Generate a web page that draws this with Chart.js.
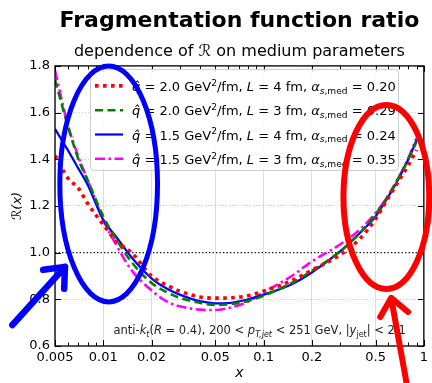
<!DOCTYPE html>
<html>
<head>
<meta charset="utf-8">
<script src="https://cdn.jsdelivr.net/npm/chart.js@4.4.0/dist/chart.umd.min.js"></script>
<style>
  html, body { margin: 0; padding: 0; background: #fff; }
  #wrap { width: 432px; height: 383px; }
</style>
</head>
<body>
<div id="wrap"><canvas id="chart" width="432" height="383"></canvas></div>
<script>
// -------------------------
// Datos
// -------------------------
const xGrid = [0.005, 0.006, 0.007, 0.008, 0.01, 0.012, 0.015, 0.02, 0.025, 0.03, 0.04, 0.05,
               0.06, 0.08, 0.1, 0.15, 0.2, 0.3, 0.4, 0.5, 0.6, 0.7, 0.8, 0.9];

const rQ20L4 = [1.415, 1.32, 1.275, 1.21, 1.12, 1.05, 1.0, 0.90, 0.86, 0.835, 0.81, 0.805,
                0.806, 0.815, 0.835, 0.88, 0.925, 0.99, 1.06, 1.145, 1.235, 1.31, 1.375, 1.44];
const rQ20L3 = [1.74, 1.545, 1.40, 1.31, 1.155, 1.06, 0.96, 0.87, 0.83, 0.806, 0.785, 0.776,
                0.778, 0.793, 0.815, 0.87, 0.922, 1.005, 1.085, 1.165, 1.245, 1.325, 1.40, 1.475];
const rQ15L4 = [1.53, 1.44, 1.36, 1.29, 1.14, 1.07, 0.98, 0.89, 0.845, 0.82, 0.792, 0.783,
                0.784, 0.80, 0.82, 0.865, 0.915, 1.005, 1.085, 1.155, 1.24, 1.32, 1.40, 1.483];
const rQ15L3 = [1.78, 1.55, 1.41, 1.31, 1.14, 1.035, 0.925, 0.838, 0.79, 0.77, 0.756, 0.754,
                0.762, 0.79, 0.83, 0.90, 0.962, 1.035, 1.10, 1.17, 1.245, 1.325, 1.405, 1.49];

// parámetros de cada curva (para la leyenda)
const qhatVals  = [2.0, 2.0, 1.5, 1.5];
const lenVals   = [4, 3, 4, 3];
const alphaVals = [0.20, 0.29, 0.24, 0.35];

// ticks
const xMajor = [0.005, 0.01, 0.02, 0.05, 0.1, 0.2, 0.5, 1];
const xMinor = [0.006, 0.007, 0.008, 0.009, 0.03, 0.04, 0.06, 0.07, 0.08, 0.09,
                0.3, 0.4, 0.6, 0.7, 0.8, 0.9];
const xLabels = ["0.005", "0.01", "0.02", "0.05", "0.1", "0.2", "0.5", "1"];
const yTicks = [0.6, 0.8, 1.0, 1.2, 1.4, 1.6, 1.8];

// cortes del jet
const jetR = 0.4, ptMin = 200, ptMax = 251, yMax = 2.1;

const FONT = '"DejaVu Sans", sans-serif';

function pts(vals){ return xGrid.map((x, i) => ({ x: x, y: vals[i] })); }

// -------------------------
// Texto con sub/superíndices
// -------------------------
function segFont(s, size){
  const sz = s.pos ? size * 0.7 : size;
  return (s.it ? "italic " : "") + sz + "px " + FONT;
}
function richWidth(ctx, segs, size){
  let w = 0;
  segs.forEach(s => { ctx.font = segFont(s, size); w += ctx.measureText(s.t).width; });
  return w;
}
function drawRich(ctx, segs, x, y, size){
  ctx.textBaseline = "alphabetic";
  ctx.textAlign = "left";
  segs.forEach(s => {
    ctx.font = segFont(s, size);
    let dy = 0;
    if (s.pos === "sup") dy = -size * 0.4;
    if (s.pos === "sub") dy = size * 0.22;
    ctx.fillText(s.t, x, y + dy);
    x += ctx.measureText(s.t).width;
  });
  return x;
}
function legendSegs(i){
  return [
    { t: "q\u0302", it: true },
    { t: " = " + qhatVals[i].toFixed(1) + " GeV" },
    { t: "2", pos: "sup" },
    { t: "/fm, " },
    { t: "L", it: true },
    { t: " = " + lenVals[i] + " fm, " },
    { t: "\u03b1", it: true },
    { t: "s", it: true, pos: "sub" },
    { t: ",med", pos: "sub" },
    { t: " = " + alphaVals[i].toFixed(2) }
  ];
}
const cutSegs = [
  { t: "anti-" }, { t: "k", it: true }, { t: "t", it: true, pos: "sub" },
  { t: "(" }, { t: "R", it: true }, { t: " = " + jetR + "), " + ptMin + " < " },
  { t: "p", it: true }, { t: "T,jet", it: true, pos: "sub" },
  { t: " < " + ptMax + " GeV, |" }, { t: "y", it: true }, { t: "jet", pos: "sub" },
  { t: "| < " + yMax.toFixed(1) }
];

// -------------------------
// Plugin: línea 1.0, marco, ticks internos, leyenda, texto
// -------------------------
const framePlugin = {
  id: "frame",
  beforeDatasetsDraw(chart){
    const { ctx, chartArea: a, scales: { y } } = chart;
    const py = y.getPixelForValue(1.0);
    ctx.save();
    ctx.strokeStyle = "#222";
    ctx.lineWidth = 1.2;
    ctx.setLineDash([1.5, 2]);
    ctx.beginPath(); ctx.moveTo(a.left, py); ctx.lineTo(a.right, py); ctx.stroke();
    ctx.restore();
  },
  afterDatasetsDraw(chart){
    const { ctx, chartArea: a, scales: { x, y } } = chart;
    ctx.save();
    // ticks hacia dentro
    ctx.strokeStyle = "#000";
    ctx.lineWidth = 1;
    ctx.beginPath();
    xMajor.concat(xMinor).forEach(v => {
      const px = Math.round(x.getPixelForValue(v)) + 0.5;
      const len = xMajor.includes(v) ? 6 : 3.5;
      ctx.moveTo(px, a.bottom); ctx.lineTo(px, a.bottom - len);
      ctx.moveTo(px, a.top); ctx.lineTo(px, a.top + len);
    });
    yTicks.forEach(v => {
      const py = Math.round(y.getPixelForValue(v)) + 0.5;
      ctx.moveTo(a.left, py); ctx.lineTo(a.left + 6, py);
      ctx.moveTo(a.right, py); ctx.lineTo(a.right - 6, py);
    });
    ctx.stroke();
    // marco
    ctx.lineWidth = 1.3;
    ctx.strokeRect(a.left, a.top, a.right - a.left, a.bottom - a.top);

    // leyenda
    const lx = a.left + 35, ly = a.top + 3, lw = 308, lh = 101;
    ctx.fillStyle = "rgba(255,255,255,0.85)";
    ctx.strokeStyle = "#cccccc";
    ctx.lineWidth = 1;
    ctx.beginPath();
    ctx.roundRect(lx + 0.5, ly + 0.5, lw, lh, 3);
    ctx.fill(); ctx.stroke();
    chart.data.datasets.forEach((ds, i) => {
      const ry = ly + 17 + i * 24.3;
      ctx.save();
      ctx.strokeStyle = ds.borderColor;
      ctx.lineWidth = ds.borderWidth;
      ctx.setLineDash(ds.borderDash || []);
      ctx.lineCap = "butt";
      ctx.beginPath(); ctx.moveTo(lx + 5, ry); ctx.lineTo(lx + 33, ry); ctx.stroke();
      ctx.restore();
      ctx.fillStyle = "#000";
      drawRich(ctx, legendSegs(i), lx + 42, ry + 5, 13);
    });

    // texto de cortes
    const cw = richWidth(ctx, cutSegs, 11.5);
    ctx.fillStyle = "#222";
    drawRich(ctx, cutSegs, a.right - 18 - cw, a.bottom - 12, 11.5);
    ctx.restore();
  }
};

// -------------------------
// Plugin: elipses y flechas añadidas a mano sobre la figura
// -------------------------
const marks = [
  { kind: "ellipse", color: "#0000ff", width: 5, x0: 0.00536, x1: 0.0218, y0: 0.789, y1: 1.80 },
  { kind: "ellipse", color: "#ff0000", width: 6, x0: 0.315, x1: 1.08, y0: 0.844, y1: 1.633 },
  { kind: "arrow", color: "#0000ff", width: 6.5, fx: 0.00271, fy: 0.69, tx: 0.00577, ty: 0.939 },
  { kind: "arrow", color: "#ff0000", width: 6, fx: 0.80, fy: 0.40, tx: 0.625, ty: 0.806 }
];
const overlayPlugin = {
  id: "overlay",
  afterDraw(chart){
    const { ctx, scales: { x, y } } = chart;
    ctx.save();
    ctx.lineCap = "round";
    ctx.lineJoin = "round";
    marks.forEach(m => {
      ctx.strokeStyle = m.color;
      ctx.lineWidth = m.width;
      ctx.beginPath();
      if (m.kind === "ellipse"){
        const l = x.getPixelForValue(m.x0), r = x.getPixelForValue(m.x1);
        const t = y.getPixelForValue(m.y1), b = y.getPixelForValue(m.y0);
        ctx.ellipse((l + r) / 2, (t + b) / 2, (r - l) / 2, (b - t) / 2, 0, 0, Math.PI * 2);
      } else {
        const fx = x.getPixelForValue(m.fx), fy = y.getPixelForValue(m.fy);
        const tx = x.getPixelForValue(m.tx), ty = y.getPixelForValue(m.ty);
        const ang = Math.atan2(fy - ty, fx - tx);
        ctx.moveTo(fx, fy); ctx.lineTo(tx, ty);
        [0.7, -0.7].forEach(d => {
          ctx.moveTo(tx, ty);
          ctx.lineTo(tx + 22 * Math.cos(ang + d), ty + 22 * Math.sin(ang + d));
        });
      }
      ctx.stroke();
    });
    ctx.restore();
  }
};

// -------------------------
// Chart
// -------------------------
const ctx = document.getElementById("chart").getContext("2d");
const chart = new Chart(ctx, {
  type: "line",
  data: {
    datasets: [
      { label: "q=2.0 L=4", data: pts(rQ20L4), borderColor: "#ff0000", borderWidth: 3.6, borderDash: [3.6, 4.4] },
      { label: "q=2.0 L=3", data: pts(rQ20L3), borderColor: "#008000", borderWidth: 2.6, borderDash: [8, 4.5] },
      { label: "q=1.5 L=4", data: pts(rQ15L4), borderColor: "#0000ff", borderWidth: 2.2 },
      { label: "q=1.5 L=3", data: pts(rQ15L3), borderColor: "#ff00ff", borderWidth: 2.6, borderDash: [10, 3.5, 2.5, 3.5] }
    ].map(d => Object.assign(d, { pointRadius: 0, fill: false, cubicInterpolationMode: "monotone", borderCapStyle: "butt" }))
  },
  options: {
    responsive: false,
    animation: false,
    devicePixelRatio: 1,
    layout: { padding: { left: 0, right: 6, top: 0, bottom: 0 } },
    plugins: {
      legend: { display: false },
      tooltip: { enabled: false },
      title: {
        display: true,
        fullSize: false,
        text: "Fragmentation function ratio",
        color: "#000",
        font: { family: FONT, size: 22, weight: "bold" },
        padding: { top: 8, bottom: 2 }
      },
      subtitle: {
        display: true,
        fullSize: false,
        text: "dependence of \u211b on medium parameters",
        color: "#000",
        font: { family: FONT, size: 16 },
        padding: { top: 6, bottom: 4.3 }
      }
    },
    scales: {
      x: {
        type: "logarithmic",
        min: 0.005,
        max: 1,
        afterBuildTicks(scale){
          scale.ticks = xMajor.concat(xMinor).sort((a, b) => a - b).map(v => ({ value: v, major: xMajor.includes(v) }));
        },
        afterFit(scale){ scale.height = 37; },
        ticks: {
          autoSkip: false,
          maxRotation: 0,
          padding: 4,
          color: "#000",
          font: { family: FONT, size: 13 },
          callback(v){ const i = xMajor.indexOf(v); return i >= 0 ? xLabels[i] : ""; }
        },
        grid: {
          drawTicks: false,
          color: c => (c.tick && xMajor.includes(c.tick.value) ? "#dddddd" : "rgba(0,0,0,0)"),
          lineWidth: 1
        },
        border: { display: false },
        title: {
          display: true,
          text: "x",
          color: "#000",
          font: { family: FONT, size: 14, style: "italic" },
          padding: { top: 0, bottom: 1 }
        }
      },
      y: {
        min: 0.6,
        max: 1.8,
        afterBuildTicks(scale){ scale.ticks = yTicks.map(v => ({ value: v })); },
        afterFit(scale){ scale.width = 55; },
        ticks: {
          padding: 5,
          color: "#000",
          font: { family: FONT, size: 13 },
          callback: v => v.toFixed(1)
        },
        grid: {
          drawTicks: false,
          color: c => (c.tick && Math.abs(c.tick.value - 1.0) < 1e-6 ? "rgba(0,0,0,0)" : "#cccccc"),
          lineWidth: 1
        },
        border: { display: false, dash: [1, 2] },
        title: {
          display: true,
          text: "\u211b(x)",
          color: "#000",
          font: { family: FONT, size: 13, style: "italic" },
          padding: { top: 10, bottom: 0 }
        }
      }
    }
  },
  plugins: [framePlugin, overlayPlugin]
});
console.log("chartArea", JSON.stringify(chart.chartArea));
</script>
</body>
</html>
